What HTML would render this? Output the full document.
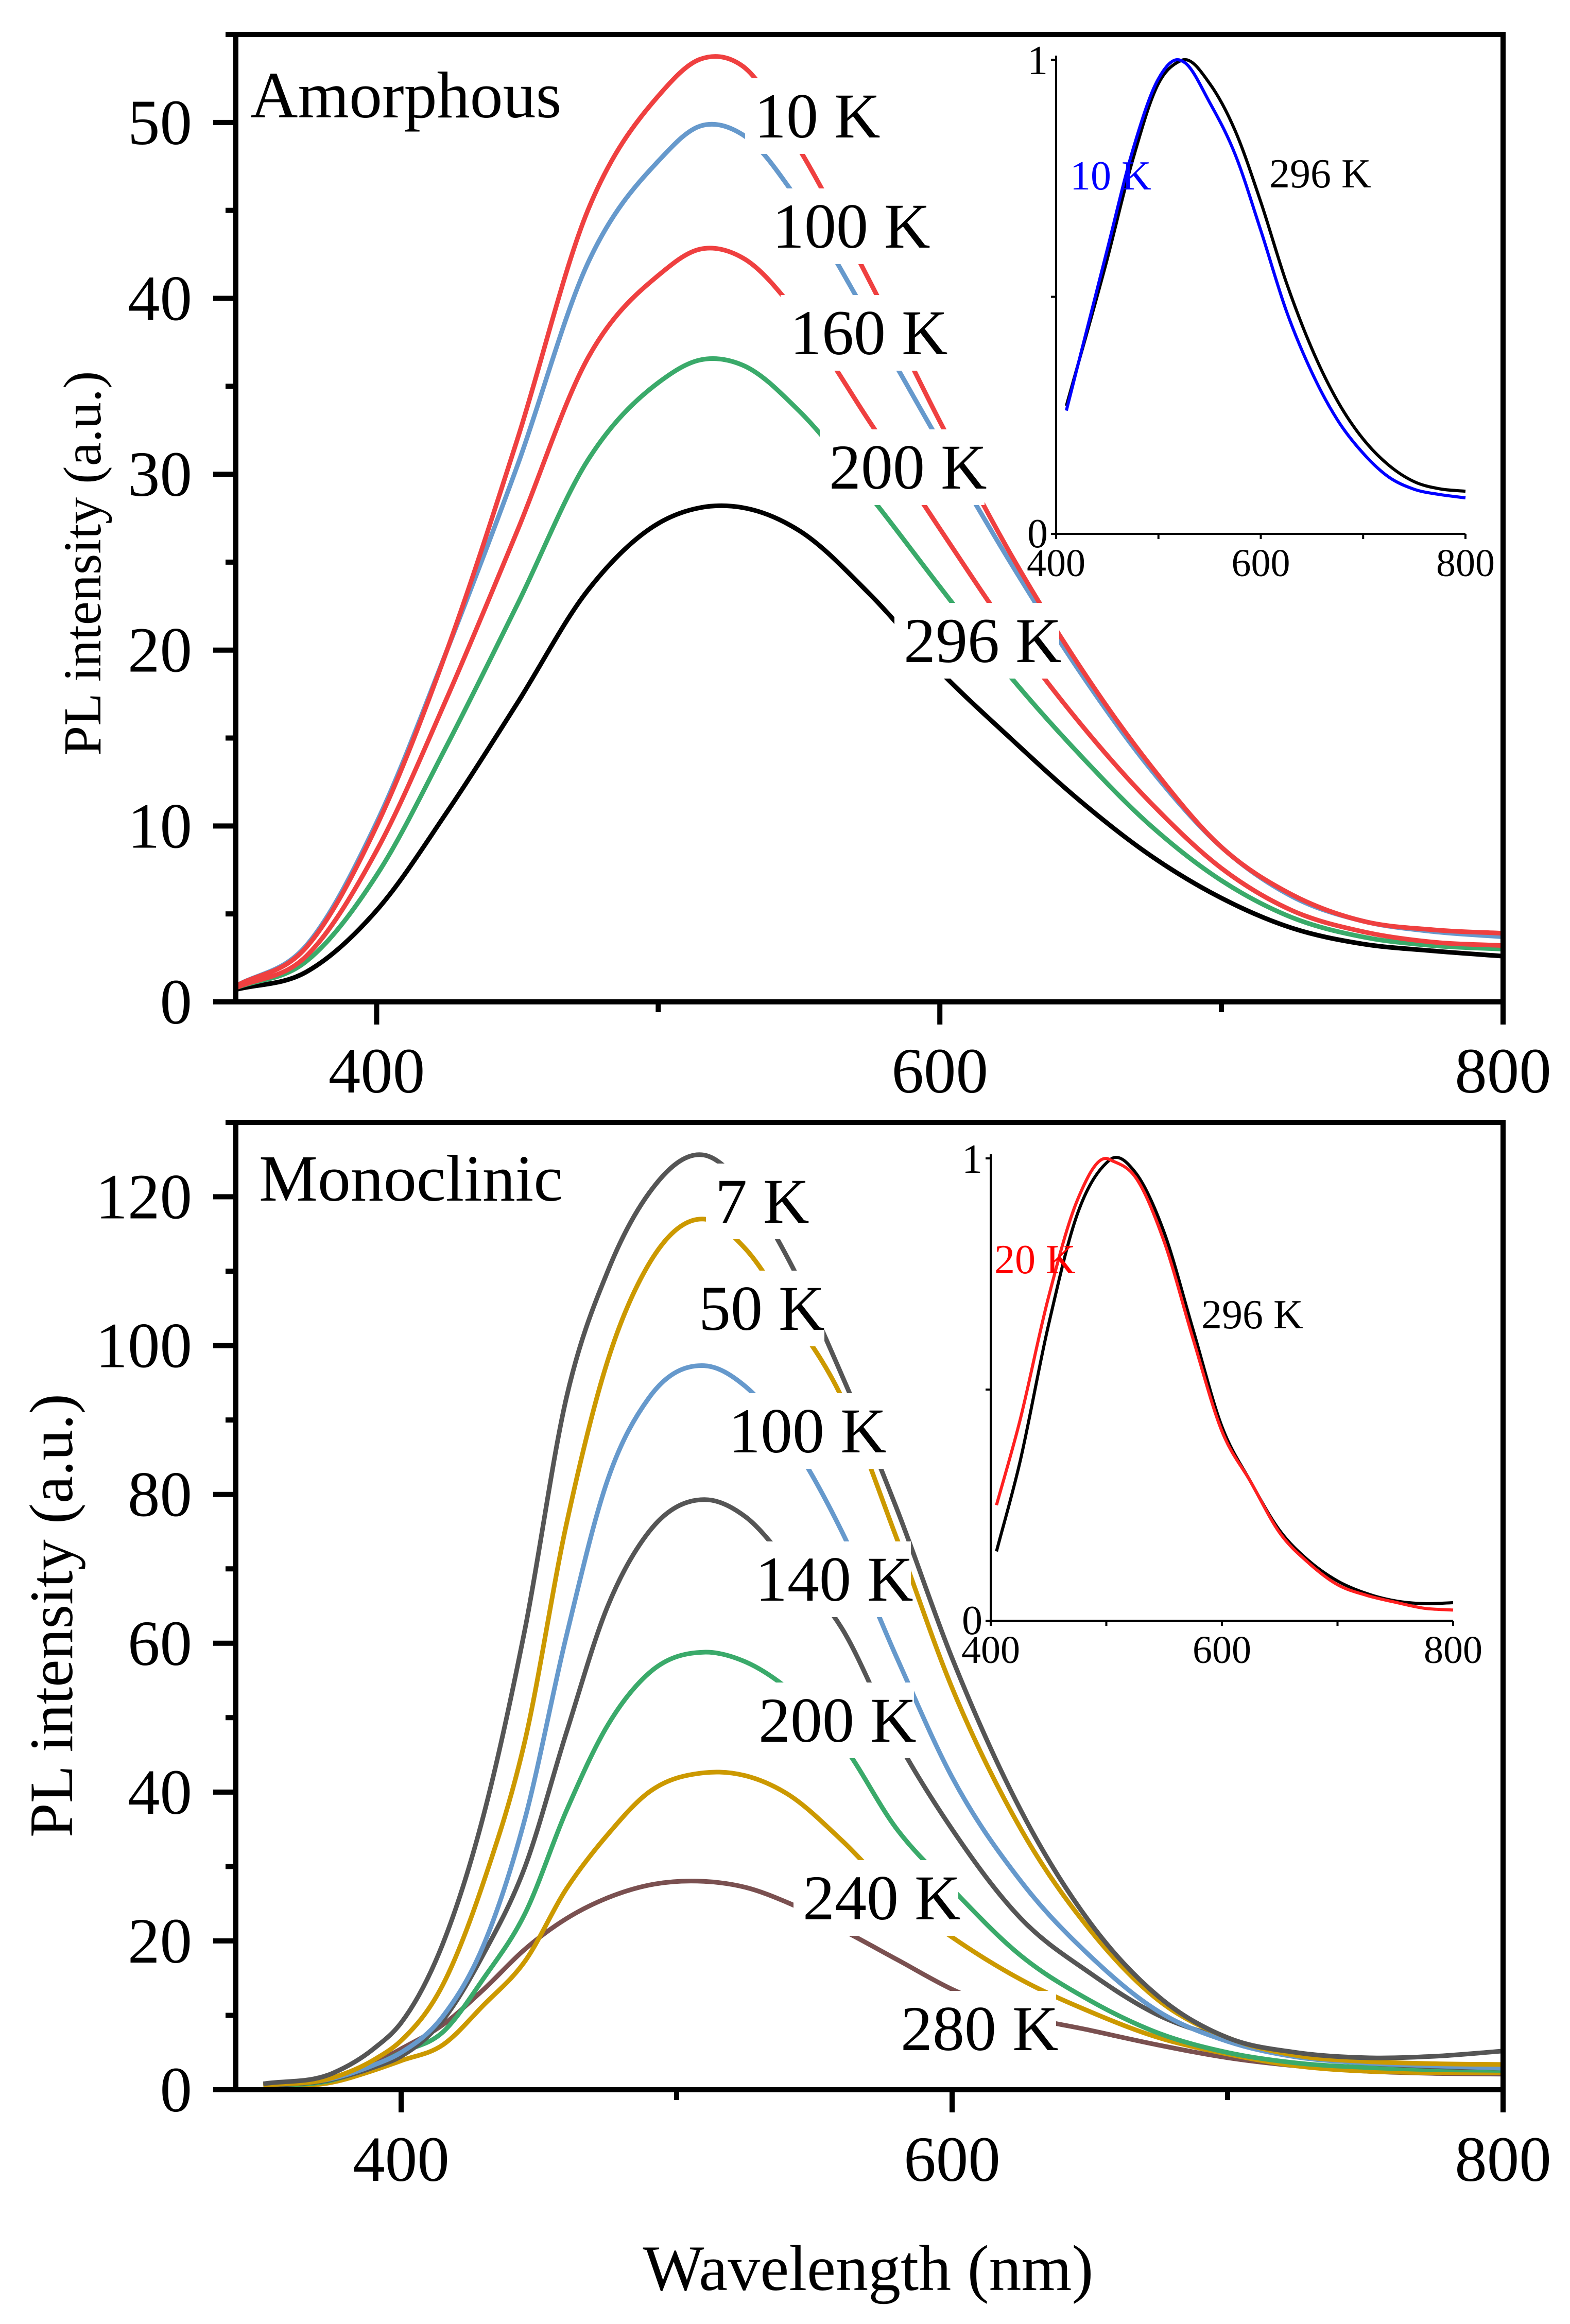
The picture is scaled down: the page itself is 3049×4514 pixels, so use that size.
<!DOCTYPE html>
<html><head><meta charset="utf-8"><style>
html,body{margin:0;padding:0;background:#fff;}
svg{display:block;font-family:"Liberation Serif","DejaVu Serif",serif;}
</style></head><body>
<svg id="fig" width="3049" height="4514" viewBox="0 0 3049 4514" xmlns="http://www.w3.org/2000/svg">
<rect x="0" y="0" width="3049" height="4514" fill="#fff"/>
<g id="topPanel"></g><g id="botPanel"></g>
</svg>
<script>
// ===== Amorphous (top) data =====
const amWl = [350,375,400,425,450,475,500,515,530,550,575,600,625,650,675,700,725,750,775,800];
const am10K  = [0.9,3.1,10,20,32,45,51.5,53.6,53.2,48.5,41,33,25.5,19,13.4,8.8,6.1,4.6,4.1,3.9];
const am100K = [0.9,3.2,10.2,20,30.5,42,47.8,49.8,49.3,45.5,38.8,31.8,25,18.7,13.2,8.8,6,4.6,4,3.7];
const am160K = [0.8,2.6,8.6,17.3,26.8,36.6,41.3,42.8,42.3,39,33,26.9,21,15.8,11.3,7.6,5.2,4,3.4,3.2];
const am200K = [0.8,2.3,7.2,14.6,22.6,30.8,35.2,36.5,36.2,33.6,28.8,23.6,18.5,14,10,6.9,4.8,3.7,3.2,3.0];
const am296K = [0.7,1.7,5.2,10.8,17,23.4,27.2,28.1,28.1,26.8,23.2,18.8,15,11.4,8.3,5.9,4.2,3.3,2.9,2.6];
const amYTicks = [0,10,20,30,40,50];
const amXTicks = [400,600,800];
// top inset (normalized)
const inAWl = [410,450,475,500,519,525,550,575,600,625,650,675,700,725,750,775,800];
const inA10K  = [0.26,0.60,0.81,0.96,1.0,0.995,0.91,0.80,0.64,0.47,0.34,0.24,0.17,0.12,0.094,0.083,0.076];
const inA296K = [0.27,0.58,0.79,0.95,0.995,1.0,0.95,0.85,0.70,0.53,0.39,0.28,0.20,0.145,0.11,0.095,0.09];
// ===== Monoclinic (bottom) data =====
const moWl = [350,375,390,400,415,430,445,460,475,490,510,525,540,560,580,600,625,650,675,700,725,750,775,800];
const mo7K   = [0.8,2.2,5.5,9,19.5,37,62,93,110,120.5,125.6,121,112,96,78,58,37.5,22.5,12.5,7,5,4.3,4.5,5.2];
const mo50K  = [0.6,1.6,4,6.6,14,28,47,76,98,111,117,113,105,93,74,54,35,21.5,12,7,4.6,3.8,3.5,3.4];
const mo100K = [0.6,1.5,3.3,5,9.8,19.5,36.5,61,82,93,97.3,94.5,88,75,58,42,28,18,10.5,6.5,4.4,3.6,3.2,2.9];
const mo140K = [0.5,1.4,3,4.5,9.3,18.3,30,48,65,75,79.3,77,71,62,47,35,23,15.7,10,6.8,4.6,3.6,3.1,2.9];
const mo200K = [0.5,1.3,3.2,5,7.7,15,23.7,37.5,49,56,58.8,57.5,54,46.5,35,27,18,12,7.6,5,3.6,3,2.7,2.6];
const mo240K = [0.4,1,2.6,3.9,6,11.4,17.3,27,34.3,40,42.6,42.2,39.8,33.5,26,20.5,14.8,10.5,7,4.8,3.2,2.5,2.3,2.3];
const mo280K = [0.5,1.3,3.5,5.5,8.7,13.5,18.9,23,25.8,27.5,28,27.2,25.2,21.5,17.5,13.5,10,8,6,4.3,3.2,2.5,2.2,2.1];
const moYTicks = [0,20,40,60,80,100,120];
const moXTicks = [400,600,800];
// bottom inset (normalized)
const inBWl = [405,425,450,475,500,505,525,550,575,600,625,650,675,700,725,750,775,800];
const inB20K  = [0.25,0.43,0.70,0.91,1.0,0.995,0.96,0.82,0.61,0.41,0.30,0.19,0.125,0.078,0.055,0.04,0.027,0.023];
const inB296K = [0.15,0.34,0.64,0.88,0.99,1.0,0.97,0.84,0.63,0.42,0.30,0.195,0.13,0.086,0.059,0.043,0.037,0.039];

const NS="http://www.w3.org/2000/svg";
function mk(parent,tag,attrs,text){const e=document.createElementNS(NS,tag);for(const k in attrs)e.setAttribute(k,attrs[k]);if(text!==undefined)e.textContent=text;parent.appendChild(e);return e;}
function linScale(d0,d1,r0,r1){return v=>r0+(v-d0)/(d1-d0)*(r1-r0);}
// cubic Hermite with non-uniform three-point slopes
function smoothPath(xs,ys,sx,sy){
  const X=xs.map(sx), Y=ys.map(sy), n=X.length;
  const d=[],m=new Array(n);
  for(let i=0;i<n-1;i++) d.push((Y[i+1]-Y[i])/(X[i+1]-X[i]));
  m[0]=d[0]; m[n-1]=d[n-2];
  for(let i=1;i<n-1;i++){
    const h0=X[i]-X[i-1],h1=X[i+1]-X[i];
    m[i]=(d[i-1]*h1+d[i]*h0)/(h0+h1);
  }
  let p="M"+X[0].toFixed(1)+","+Y[0].toFixed(1);
  for(let i=0;i<n-1;i++){
    const h=X[i+1]-X[i];
    p+=" C"+(X[i]+h/3).toFixed(1)+","+(Y[i]+m[i]*h/3).toFixed(1)+" "+(X[i+1]-h/3).toFixed(1)+","+(Y[i+1]-m[i+1]*h/3).toFixed(1)+" "+X[i+1].toFixed(1)+","+Y[i+1].toFixed(1);
  }
  return p;
}

function mainPanel(g,cfg){
  const sx=linScale(cfg.x0,cfg.x1,cfg.L,cfg.R), sy=linScale(cfg.y0,cfg.y1,cfg.B,cfg.T);
  const series=mk(g,"g",{});
  
  
  cfg.series.forEach(s=>{
    const p=mk(series,"path",{d:smoothPath(cfg.wl,s.v,sx,sy),fill:"none",stroke:s.c,"stroke-width":9,"stroke-linejoin":"round"});
    
    
  });
  cfg.labels.forEach(l=>{
    const w=l.t.length*58+20;
    const r=mk(g,"rect",{x:l.x-18,y:l.y-115,width:w+10,height:147,fill:"#fff"});
    
    
    const t=mk(g,"text",{x:l.x,y:l.y,"font-size":124,fill:"#000"},l.t);
    
    
  });
  const fr=mk(g,"rect",{x:cfg.L,y:cfg.T,width:cfg.R-cfg.L,height:cfg.B-cfg.T,fill:"none",stroke:"#000","stroke-width":10});
  
  
  for(let v=cfg.y0;v<=cfg.y1+1e-9;v+=cfg.yMinor){
    const major=cfg.yTicks.indexOf(v)>=0, y=sy(v);
    const tk=mk(g,"line",{x1:cfg.L-(major?44:20),x2:cfg.L,y1:y,y2:y,stroke:"#000","stroke-width":10});
    
    
  }
  cfg.yTicks.forEach(v=>{
    const t=mk(g,"text",{x:373,y:sy(v)+42,"font-size":125,"text-anchor":"end"},String(v));
    
    
  });
  for(let v=400;v<=800;v+=100){
    const major=cfg.xTicks.indexOf(v)>=0, x=sx(v);
    const tk=mk(g,"line",{x1:x,x2:x,y1:cfg.B,y2:cfg.B+(major?44:20),stroke:"#000","stroke-width":10});
    
    
  }
  cfg.xTicks.forEach(v=>{
    const t=mk(g,"text",{x:sx(v),y:cfg.xLabY,"font-size":125,"text-anchor":"middle"},String(v));
    
    
  });
  const yt=mk(g,"text",{x:0,y:0,"font-size":cfg.yTitleSize,"text-anchor":"middle",transform:"translate("+cfg.yTitleX+","+cfg.yTitleY+") rotate(-90)"},"PL intensity (a.u.)");
  
  
  const tt=mk(g,"text",{x:cfg.titleX,y:cfg.titleY,"font-size":128},cfg.title);
  
  
}

function drawInset(g,cfg){
  const sx=linScale(400,800,cfg.L,cfg.R), sy=linScale(0,1,cfg.B,cfg.T);
  const ig=mk(g,"g",{});
  
  
  cfg.series.forEach(s=>{
    const p=mk(ig,"path",{d:smoothPath(cfg.wl,s.v,sx,sy),fill:"none",stroke:s.c,"stroke-width":6,"stroke-linejoin":"round"});
    
    
  });
  const ax=mk(ig,"path",{d:"M"+cfg.L+","+(cfg.T-8)+" V"+cfg.B+" H"+cfg.R,fill:"none",stroke:"#000","stroke-width":4});
  
  
  [0,0.5,1].forEach(v=>{
    const t=mk(ig,"line",{x1:cfg.L-10,x2:cfg.L,y1:sy(v),y2:sy(v),stroke:"#000","stroke-width":4});
    
    
  });
  [400,500,600,700,800].forEach(v=>{
    const t=mk(ig,"line",{x1:sx(v),x2:sx(v),y1:cfg.B,y2:cfg.B+10,stroke:"#000","stroke-width":4});
    
    
  });
  [0,1].forEach(v=>{
    const t=mk(ig,"text",{x:cfg.L-16,y:sy(v)+(v===1?28:26),"font-size":80,"text-anchor":"end"},String(v));
    
    
  });
  [400,600,800].forEach(v=>{
    const t=mk(ig,"text",{x:sx(v),y:cfg.B+82,"font-size":76,"text-anchor":"middle"},String(v));
    
    
  });
  cfg.labels.forEach(l=>{
    const t=mk(ig,"text",{x:l.x,y:l.y,"font-size":80,fill:l.c},l.t);
    
    
  });
}

const topG=document.getElementById('topPanel');


mainPanel(topG,{name:'amorphous',L:458,R:2919,T:67,B:1946,x0:350,x1:800,y0:0,y1:55,yMinor:5,yTicks:amYTicks,xTicks:amXTicks,wl:amWl,xLabY:2122,
 series:[{v:am296K,c:"#000",label:"296 K"},{v:am200K,c:"#3aaa6a",label:"200 K"},{v:am160K,c:"#ef4040",label:"160 K"},{v:am100K,c:"#6699cc",label:"100 K"},{v:am10K,c:"#ef4040",label:"10 K"}],
 labels:[{t:"10 K",x:1465,y:267},{t:"100 K",x:1500,y:481},{t:"160 K",x:1534,y:688},{t:"200 K",x:1610,y:949},{t:"296 K",x:1755,y:1286}],
 yTitleX:195,yTitleY:1094,yTitleSize:104,title:"Amorphous",titleX:486,titleY:228});
drawInset(topG,{L:2051,R:2846,T:116,B:1037,wl:inAWl,series:[{v:inA296K,c:"#000"},{v:inA10K,c:"#0000ff"}],
 labels:[{t:"10 K",x:2078,y:368,c:"#0000ff"},{t:"296 K",x:2465,y:364,c:"#000"}]});

const botG=document.getElementById('botPanel');


mainPanel(botG,{name:'monoclinic',L:458,R:2919,T:2180,B:4059,x0:340,x1:800,y0:0,y1:130,yMinor:10,yTicks:moYTicks,xTicks:moXTicks,wl:moWl,xLabY:4236,
 series:[{v:mo280K,c:"#7a5050",label:"280 K"},{v:mo240K,c:"#cc9900",label:"240 K"},{v:mo200K,c:"#3aaa6a",label:"200 K"},{v:mo140K,c:"#555555",label:"140 K"},{v:mo100K,c:"#6699cc",label:"100 K"},{v:mo50K,c:"#cc9900",label:"50 K"},{v:mo7K,c:"#555555",label:"7 K"}],
 labels:[{t:"7 K",x:1389,y:2375},{t:"50 K",x:1357,y:2583},{t:"100 K",x:1415,y:2821},{t:"140 K",x:1467,y:3109},{t:"200 K",x:1473,y:3383},{t:"240 K",x:1559,y:3728},{t:"280 K",x:1749,y:3982}],
 yTitleX:140,yTitleY:3138,yTitleSize:120,title:"Monoclinic",titleX:503,titleY:2332});
drawInset(botG,{L:1924,R:2822,T:2250,B:3148,wl:inBWl,series:[{v:inB296K,c:"#000"},{v:inB20K,c:"#ff2020"}],
 labels:[{t:"20 K",x:1931,y:2473,c:"#ff0000"},{t:"296 K",x:2333,y:2580,c:"#000"}]});

const xt=mk(botG,"text",{x:1686,y:4448,"font-size":126,"text-anchor":"middle"},"Wavelength (nm)");


</script>
</body></html>
